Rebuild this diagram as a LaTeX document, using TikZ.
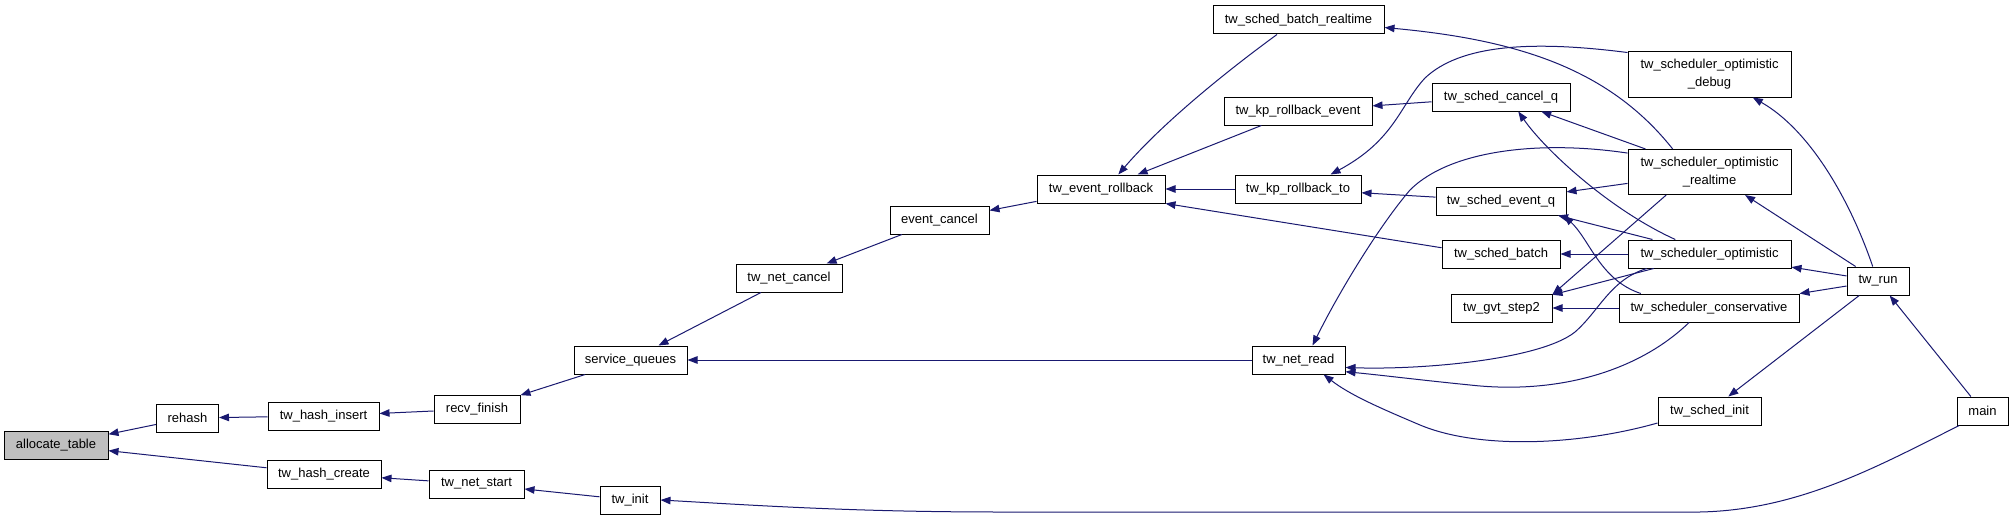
\documentclass[tikz,border=0pt]{standalone}
\usepackage{fontspec}
\setmainfont{Liberation Sans}
\usetikzlibrary{arrows.meta}
\definecolor{edgeblue}{HTML}{191970}
\begin{document}
\begin{tikzpicture}[x=1pt,y=-1pt,
  nbox/.style={draw=black, line width=1pt, fill=white, inner sep=0pt,
    minimum height=28pt, font=\fontsize{13}{18}\selectfont, align=center},
  cedge/.style={draw=edgeblue, line width=1pt, -{Triangle[length=10pt,width=7.5pt]}}]
\useasboundingbox (0,0) rectangle (2013,519);
\fill[white] (0,0) rectangle (2013,519);
% nodes
\node[nbox,fill=gray!50,minimum width=104] (at) at (56,445) {allocate\_table};
\node[nbox,minimum width=62]  (rh)  at (187.5,418) {rehash};
\node[nbox,minimum width=111] (hi)  at (323.5,416) {tw\_hash\_insert};
\node[nbox,minimum width=86]  (rf)  at (477,409)   {recv\_finish};
\node[nbox,minimum width=114] (hc)  at (324,474)   {tw\_hash\_create};
\node[nbox,minimum width=95]  (ns)  at (476.5,484) {tw\_net\_start};
\node[nbox,minimum width=60]  (ti)  at (630,500)   {tw\_init};
\node[nbox,minimum width=113] (sq)  at (630.5,360) {service\_queues};
\node[nbox,minimum width=106] (nc)  at (789,278)   {tw\_net\_cancel};
\node[nbox,minimum width=99]  (ec)  at (939.5,220) {event\_cancel};
\node[nbox,minimum width=128] (er)  at (1101,189)  {tw\_event\_rollback};
\node[nbox,minimum width=171] (sbr) at (1298.5,20) {tw\_sched\_batch\_realtime};
\node[nbox,minimum width=148] (kre) at (1298,111)  {tw\_kp\_rollback\_event};
\node[nbox,minimum width=126] (krt) at (1298,189)  {tw\_kp\_rollback\_to};
\node[nbox,minimum width=138] (scq) at (1501,97)   {tw\_sched\_cancel\_q};
\node[nbox,minimum width=130] (seq) at (1501,201)  {tw\_sched\_event\_q};
\node[nbox,minimum width=118] (sb)  at (1501,254)  {tw\_sched\_batch};
\node[nbox,minimum width=101] (gs)  at (1501.5,308) {tw\_gvt\_step2};
\node[nbox,minimum width=93]  (nr)  at (1298.5,360) {tw\_net\_read};
\node[nbox,minimum width=163,minimum height=45] (sod) at (1709.5,74.5) {tw\_scheduler\_optimistic\\\_debug};
\node[nbox,minimum width=163,minimum height=45] (sor) at (1709.5,172) {tw\_scheduler\_optimistic\\\_realtime};
\node[nbox,minimum width=163] (so)  at (1709.5,254) {tw\_scheduler\_optimistic};
\node[nbox,minimum width=180] (sc)  at (1709,308)   {tw\_scheduler\_conservative};
\node[nbox,minimum width=103] (si)  at (1709.5,411) {tw\_sched\_init};
\node[nbox,minimum width=62]  (run) at (1878,281)   {tw\_run};
\node[nbox,minimum width=51]  (mn)  at (1982.5,411) {main};
% edges (caller -> callee)
\draw[cedge] (rh) -- (at);
\draw[cedge] (hc) -- (at);
\draw[cedge] (hi) -- (rh);
\draw[cedge] (rf) -- (hi);
\draw[cedge] (ns) -- (hc);
\draw[cedge] (ti) -- (ns);
\draw[cedge] (sq) -- (rf);
\draw[cedge] (nc) -- (sq);
\draw[cedge] (ec) -- (nc);
\draw[cedge] (er) -- (ec);
\draw[cedge] (nr) -- (sq);
\draw[cedge] (sbr.-146) .. controls (1235,65) and (1165,120) .. (er.40);
\draw[cedge] (kre) -- (er);
\draw[cedge] (krt) -- (er);
\draw[cedge] (sb.174) -- (er.south east);
\draw[cedge] (scq) -- (kre);
\draw[cedge] (sod.165) .. controls (1530,40) and (1460,45) .. (1425,78) .. controls (1400,105) and (1395,140) .. (krt.24);
\draw[cedge] (seq) -- (krt);
\draw[cedge] (sor.148) .. controls (1610,70) and (1520,40) .. (sbr.-5);
\draw[cedge] (sor) -- (scq);
\draw[cedge] (sor) -- (seq);
\draw[cedge] (sor.167) .. controls (1540,140) and (1450,150) .. (1410,190) .. controls (1380,225) and (1340,290) .. (nr.46);
\draw[cedge] (so.157) .. controls (1610,210) and (1545,150) .. (scq.-40);
\draw[cedge] (so) -- (seq);
\draw[cedge] (so) -- (sb);
\draw[cedge] (so) -- (gs);
\draw[cedge] (sor.-152) -- (gs.15);
\draw[cedge] (so.193) .. controls (1610,280) and (1600,310) .. (1575,332) .. controls (1540,360) and (1420,370) .. (nr.-9);
\draw[cedge] (sc.168) .. controls (1600,280) and (1590,240) .. (seq.-13);
\draw[cedge] (sc) -- (gs);
\draw[cedge] (sc.-144) .. controls (1640,370) and (1560,395) .. (1470,385) .. controls (1420,380) and (1380,375) .. (nr.-14);
\draw[cedge] (si.193) .. controls (1580,445) and (1480,450) .. (1420,425) .. controls (1380,408) and (1350,395) .. (nr.-30);
\draw[cedge] (run.110) .. controls (1850,200) and (1810,130) .. (sod.-28);
\draw[cedge] (run) -- (sor);
\draw[cedge] (run) -- (so);
\draw[cedge] (run) -- (sc);
\draw[cedge] (run) -- (si);
\draw[cedge] (mn) -- (run);
\draw[cedge] (mn.-148) .. controls (1880,465) and (1800,510) .. (1700,512) -- (1000,512) .. controls (850,512) and (750,505) .. (ti.east);
\end{tikzpicture}
\end{document}
